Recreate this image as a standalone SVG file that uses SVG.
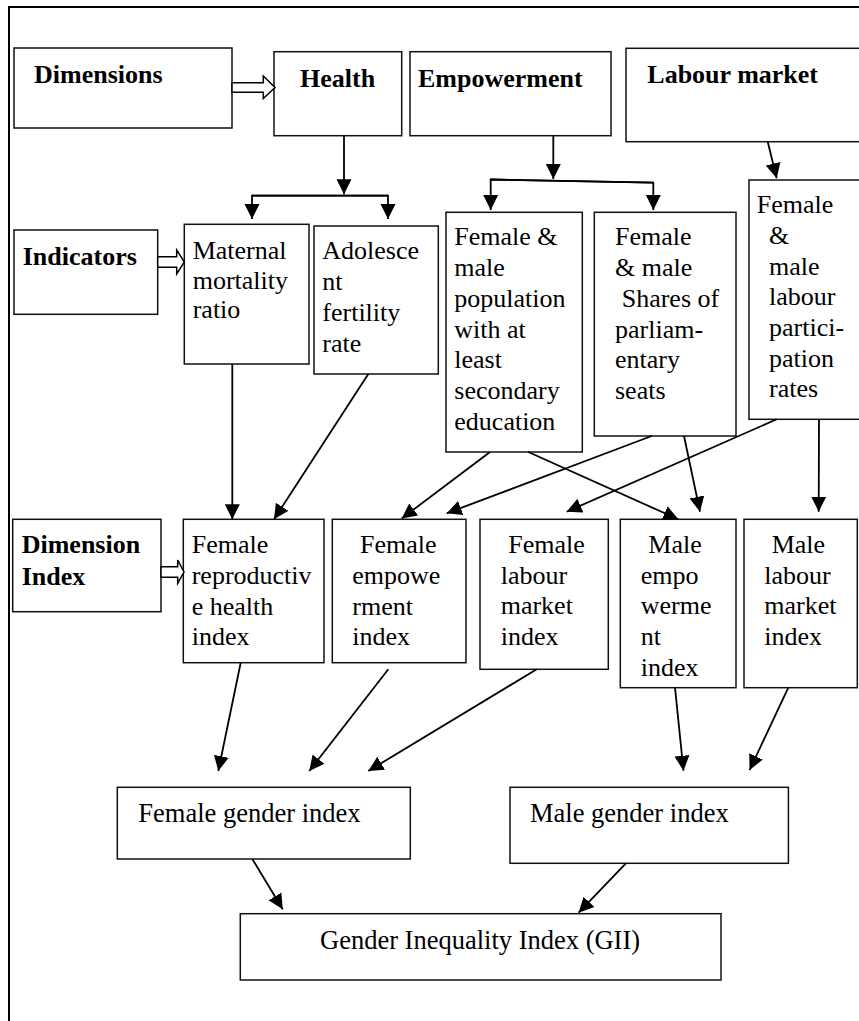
<svg xmlns="http://www.w3.org/2000/svg" width="859" height="1021" viewBox="0 0 859 1021">
<defs>
<style>
.box{fill:#fff;stroke:#111;stroke-width:1.5}
.t{font-family:"Liberation Serif","Times New Roman",serif;font-size:26px;fill:#000}
.b{font-family:"Liberation Serif","Times New Roman",serif;font-size:26px;font-weight:bold;fill:#000}
.w{font-family:"Liberation Serif","Times New Roman",serif;font-size:26.5px;fill:#000}
.c{fill:none;stroke:#000;stroke-width:1.8}
.hollow{fill:#fff;stroke:#000;stroke-width:1.5}
</style>
<marker id="ah" viewBox="0 0 10 10" refX="10" refY="5" markerWidth="15" markerHeight="16" markerUnits="userSpaceOnUse" orient="auto">
<path d="M0,0 L10,5 L0,10 Z" fill="#000"/>
</marker>
</defs>
<rect width="859" height="1021" fill="#fff"/>
<path d="M9,1021 L9,7 L859,7" fill="none" stroke="#000" stroke-width="2"/>

<g id="dimensions">
<rect class="box" x="14" y="48" width="218" height="80"/>
<text class="b" x="34" y="83">Dimensions</text>
</g>
<g id="health">
<rect class="box" x="274" y="51.7" width="127.7" height="84"/>
<text class="b" x="300" y="87.3">Health</text>
</g>
<g id="empowerment">
<rect class="box" x="410" y="51.7" width="201" height="84"/>
<text class="b" x="418" y="87">Empowerment</text>
</g>
<g id="labour-market">
<rect class="box" x="626" y="48.3" width="250" height="93.4"/>
<text class="b" x="647.3" y="83.3">Labour market</text>
</g>

<g id="indicators">
<rect class="box" x="14" y="230" width="143.7" height="84.3"/>
<text class="b" x="22.7" y="265">Indicators</text>
</g>
<g id="maternal">
<rect class="box" x="184.3" y="224.3" width="124.7" height="139.7"/>
<text class="t" x="192.7" y="259">Maternal</text>
<text class="t" x="192.7" y="288.5">mortality</text>
<text class="t" x="192.7" y="318.3">ratio</text>
</g>
<g id="adolescent">
<rect class="box" x="314" y="226" width="124.3" height="148"/>
<text class="t" x="322.3" y="259.3">Adolesce</text>
<text class="t" x="322.3" y="290">nt</text>
<text class="t" x="322.3" y="320.7">fertility</text>
<text class="t" x="322.3" y="352">rate</text>
</g>
<g id="education">
<rect class="box" x="446" y="212.3" width="136.3" height="239.7"/>
<text class="t" x="454.3" y="245">Female &amp;</text>
<text class="t" x="454.3" y="275.5">male</text>
<text class="t" x="454.3" y="306.5">population</text>
<text class="t" x="454.3" y="337.5">with at</text>
<text class="t" x="454.3" y="368.3">least</text>
<text class="t" x="454.3" y="399.3">secondary</text>
<text class="t" x="454.3" y="430">education</text>
</g>
<g id="parliament">
<rect class="box" x="594.3" y="212.3" width="141.7" height="223.7"/>
<text class="t" x="615" y="245">Female</text>
<text class="t" x="615" y="275.5">&amp; male</text>
<text class="t" x="621.7" y="306.5">Shares of</text>
<text class="t" x="615" y="337.5">parliam-</text>
<text class="t" x="615" y="368.3">entary</text>
<text class="t" x="615" y="398.5">seats</text>
</g>
<g id="participation">
<rect class="box" x="749" y="180" width="125" height="239.3"/>
<text class="t" x="756.7" y="213.3">Female</text>
<text class="t" x="769" y="243.5">&amp;</text>
<text class="t" x="769" y="275">male</text>
<text class="t" x="769" y="305.3">labour</text>
<text class="t" x="769" y="336.3">partici-</text>
<text class="t" x="769" y="366.7">pation</text>
<text class="t" x="769" y="397.3">rates</text>
</g>

<g id="dimension-index">
<rect class="box" x="12.7" y="519.3" width="148.3" height="92.4"/>
<text class="b" x="21.7" y="552.7">Dimension</text>
<text class="b" x="21.7" y="585">Index</text>
</g>
<g id="reproductive-index">
<rect class="box" x="183.3" y="519.3" width="140.7" height="143.4"/>
<text class="t" x="191.7" y="552.7">Female</text>
<text class="t" x="191.7" y="584">reproductiv</text>
<text class="t" x="191.7" y="615">e health</text>
<text class="t" x="191.7" y="645">index</text>
</g>
<g id="female-empowerment-index">
<rect class="box" x="332.3" y="519.3" width="133.7" height="143.4"/>
<text class="t" x="360" y="552.7">Female</text>
<text class="t" x="352.3" y="584">empowe</text>
<text class="t" x="352.3" y="615">rment</text>
<text class="t" x="352.3" y="645">index</text>
</g>
<g id="female-labour-index">
<rect class="box" x="480" y="519.3" width="128.3" height="150"/>
<text class="t" x="508.3" y="552.7">Female</text>
<text class="t" x="500.7" y="583.5">labour</text>
<text class="t" x="500.7" y="614">market</text>
<text class="t" x="500.7" y="645">index</text>
</g>
<g id="male-empowerment-index">
<rect class="box" x="620.3" y="519.3" width="115.7" height="168.4"/>
<text class="t" x="648.3" y="552.7">Male</text>
<text class="t" x="640.7" y="583.5">empo</text>
<text class="t" x="640.7" y="614">werme</text>
<text class="t" x="640.7" y="645">nt</text>
<text class="t" x="640.7" y="676">index</text>
</g>
<g id="male-labour-index">
<rect class="box" x="744" y="519.3" width="113.3" height="168.4"/>
<text class="t" x="771.7" y="552.7">Male</text>
<text class="t" x="764.3" y="583.5">labour</text>
<text class="t" x="764.3" y="614">market</text>
<text class="t" x="764.3" y="645">index</text>
</g>

<g id="female-gender-index">
<rect class="box" x="117.3" y="787.3" width="293" height="71.7"/>
<text class="w" x="138.3" y="822.3">Female gender index</text>
</g>
<g id="male-gender-index">
<rect class="box" x="510" y="787.3" width="278.4" height="76"/>
<text class="w" x="530" y="821.5">Male gender index</text>
</g>
<g id="gii">
<rect class="box" x="240.3" y="913.7" width="480.7" height="66.3"/>
<text class="w" x="320" y="948.5">Gender Inequality Index (GII)</text>
</g>

<g id="connectors">
<polygon class="hollow" points="232,82.7 263.3,82.7 263.3,76 275,87.5 263.3,98.5 263.3,92.3 232,92.3"/>
<polygon class="hollow" points="157.7,256.7 176.7,256.7 176.7,250 184.3,262 176.7,274 176.7,267.3 157.7,267.3"/>
<polygon class="hollow" points="161,566.7 177.7,566.7 177.7,560 184,572 177.7,583.3 177.7,577.3 161,577.3"/>

<line class="c" x1="344" y1="135.7" x2="344" y2="194.3" marker-end="url(#ah)"/>
<path class="c" d="M388,195.7 L252,195.7 L252,219" marker-end="url(#ah)"/>
<path class="c" d="M252,195.7 L388,195.7 L388,219" marker-end="url(#ah)"/>

<line class="c" x1="553.3" y1="135.7" x2="553.3" y2="179" marker-end="url(#ah)"/>
<path class="c" d="M653.3,182.7 L490.7,179.5 L490.7,210" marker-end="url(#ah)"/>
<path class="c" d="M490.7,179.5 L653.3,182.7 L653.3,210" marker-end="url(#ah)"/>

<line class="c" x1="767.7" y1="141.7" x2="776.7" y2="178.3" marker-end="url(#ah)"/>

<line class="c" x1="232.3" y1="364" x2="232.3" y2="519.3" marker-end="url(#ah)"/>
<line class="c" x1="368.3" y1="374" x2="274" y2="519.3" marker-end="url(#ah)"/>
<line class="c" x1="490" y1="452" x2="401.7" y2="518.5" marker-end="url(#ah)"/>
<line class="c" x1="528.3" y1="452" x2="678.3" y2="519.3" marker-end="url(#ah)"/>
<line class="c" x1="651.7" y1="436" x2="446.7" y2="513.3" marker-end="url(#ah)"/>
<line class="c" x1="684" y1="436" x2="700" y2="511.7" marker-end="url(#ah)"/>
<line class="c" x1="776.7" y1="419.3" x2="566.7" y2="511.7" marker-end="url(#ah)"/>
<line class="c" x1="819" y1="419.3" x2="818.7" y2="511.7" marker-end="url(#ah)"/>

<line class="c" x1="240.7" y1="662.7" x2="218.3" y2="771" marker-end="url(#ah)"/>
<line class="c" x1="388.3" y1="669.3" x2="309.3" y2="771" marker-end="url(#ah)"/>
<line class="c" x1="536.7" y1="669.3" x2="368.3" y2="771" marker-end="url(#ah)"/>
<line class="c" x1="675" y1="687.7" x2="683.5" y2="770.7" marker-end="url(#ah)"/>
<line class="c" x1="788.3" y1="687.7" x2="749.6" y2="770" marker-end="url(#ah)"/>
<line class="c" x1="252.3" y1="859" x2="282.7" y2="909.3" marker-end="url(#ah)"/>
<line class="c" x1="625.9" y1="863.3" x2="578.6" y2="912.7" marker-end="url(#ah)"/>
</g>
</svg>
